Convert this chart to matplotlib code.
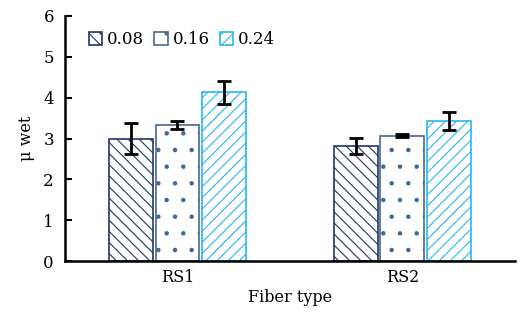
import numpy as np
import matplotlib
matplotlib.use("Agg")
from matplotlib import pyplot as plt

categories = ["RS1", "RS2"]
series = ["0.08", "0.16", "0.24"]
values = {
    "0.08": [3.00, 2.82],
    "0.16": [3.33, 3.07],
    "0.24": [4.13, 3.43],
}
errors = {
    "0.08": [0.38, 0.20],
    "0.16": [0.10, 0.04],
    "0.24": [0.29, 0.23],
}

edge_colors = ["#1f3864", "#44698f", "#29b6f0"]
hatches = ["\\\\\\", ".", "///"]

plt.rcParams["font.family"] = ["DejaVu Serif"]
plt.rcParams["hatch.linewidth"] = 0.8

fig = plt.figure(figsize=(5.2, 3.2), dpi=100)
ax = fig.add_axes([0.125, 0.184, 0.865, 0.766])

x = np.arange(len(categories))
w = 0.195
for i, s in enumerate(series):
    ax.bar(x + (i - 1) * (w + 0.012), values[s], width=w, color="white",
           edgecolor=edge_colors[i], hatch=hatches[i], linewidth=1.2,
           label=s, zorder=2)
    ax.errorbar(x + (i - 1) * (w + 0.012), values[s], yerr=errors[s],
                fmt="none", ecolor="black", elinewidth=2, capsize=5,
                capthick=2, zorder=3)

ax.set_xlim(-0.5, 1.5)
ax.set_ylim(0, 6)
ax.set_yticks(range(7))
ax.set_xticks(x)
ax.set_xticklabels(categories)
ax.tick_params(axis="x", length=0, labelsize=11.5, pad=6)
ax.tick_params(axis="y", direction="in", length=5, width=1.5, labelsize=12, pad=8)
for side in ["top", "right"]:
    ax.spines[side].set_visible(False)
for side in ["left", "bottom"]:
    ax.spines[side].set_linewidth(1.8)

ax.set_ylabel("μ wet", fontsize=11.5, labelpad=6)
ax.set_xlabel("Fiber type", fontsize=11.5, labelpad=2)
ax.legend(loc="upper left", ncol=3, frameon=False, fontsize=12,
          handlelength=0.8, handleheight=0.8, handletextpad=0.3,
          columnspacing=0.6, bbox_to_anchor=(0.02, 1.0))

fig.savefig("out.png", dpi=100)
